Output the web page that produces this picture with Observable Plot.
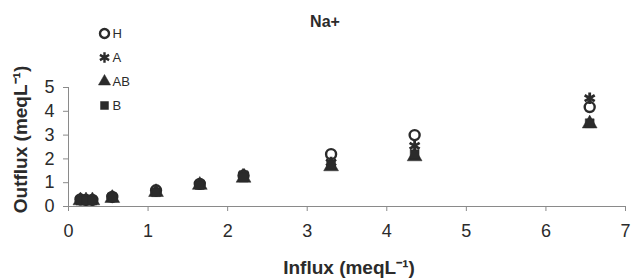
<!DOCTYPE html>
<html>
<head>
<meta charset="utf-8">
<script src="https://cdn.jsdelivr.net/npm/d3@7"></script>
<script src="https://cdn.jsdelivr.net/npm/@observablehq/plot@0.6"></script>
<style>
  html, body { margin: 0; padding: 0; background: #fff; }
  #chart { width: 634px; height: 279px; }
  svg { font-family: "Liberation Sans", Arial, sans-serif; }
</style>
</head>
<body>
<div id="chart"></div>
<script>
// Data
const influx = [0.15, 0.22, 0.3, 0.55, 1.1, 1.65, 2.2, 3.3, 4.35, 6.55];
const outH  = [0.3, 0.28, 0.28, 0.4, 0.68, 0.95, 1.3, 2.2, 3.0, 4.18];
const outA  = [0.3, 0.28, 0.28, 0.42, 0.65, 0.95, 1.35, 1.85, 2.55, 4.55];
const outAB = [0.25, 0.25, 0.25, 0.35, 0.6, 0.9, 1.2, 1.68, 2.1, 3.48];
const outB  = [0.25, 0.25, 0.25, 0.38, 0.6, 0.9, 1.22, 1.75, 2.2, 3.5];
const seriesNames = ["H", "A", "AB", "B"];
const xTicks = [0, 1, 2, 3, 4, 5, 6, 7];
const yTicks = [0, 1, 2, 3, 4, 5];
const title = "Na+";
const xLabel = "Influx (meqL\u207B\u00B9)";
const yLabel = "Outflux (meqL\u207B\u00B9)";

const seriesValues = { H: outH, A: outA, AB: outAB, B: outB };
const rows = seriesNames.flatMap(s => influx.map((x, i) => ({ s, x, y: seriesValues[s][i] })));
const bySeries = s => rows.filter(d => d.s === s);

const ink = "#2b2b2b";
const symbolScale = { domain: seriesNames, range: ["circle", "asterisk", "triangle", "square"] };

const legendMarks = seriesNames.flatMap((s, i) => {
  const dy = -54 + i * 24;
  const filled = s === "AB" || s === "B";
  return [
    Plot.dot([s], {
      frameAnchor: "top-left", dx: 36, dy, symbol: d => d, r: s === "A" ? 5 : 4.5,
      fill: filled ? ink : "none", stroke: ink, strokeWidth: filled ? 0.5 : 2.4
    }),
    Plot.text([s], {
      frameAnchor: "top-left", lineAnchor: "middle", dx: 44, dy, text: d => d, textAnchor: "start",
      fontSize: 13, fill: ink
    })
  ];
});

const chart = Plot.plot({
  width: 634,
  height: 279,
  marginLeft: 68,
  marginRight: 9,
  marginTop: 87,
  marginBottom: 73,
  style: { fontFamily: "Liberation Sans, Arial, sans-serif", background: "#fff", overflow: "visible" },
  x: { domain: [0, 7] },
  y: { domain: [0, 5] },
  symbol: symbolScale,
  marks: [
    Plot.ruleY([0], { stroke: "#8a8a8a", strokeWidth: 1 }),
    Plot.ruleX([0], { stroke: "#8a8a8a", strokeWidth: 1 }),
    Plot.axisX({ ticks: xTicks, tickFormat: "d", tickSize: 5, tickPadding: 13, fontSize: 18, label: null, stroke: "#8a8a8a", color: ink }),
    Plot.axisY({ ticks: yTicks, tickFormat: "d", tickSize: 5, tickPadding: 9, fontSize: 18, label: null, stroke: "#8a8a8a", color: ink }),
    Plot.dot(bySeries("H"), { x: "x", y: "y", symbol: "s", r: 5, fill: "none", stroke: ink, strokeWidth: 2.4 }),
    Plot.dot(bySeries("A"), { x: "x", y: "y", symbol: "s", r: 5.5, fill: "none", stroke: ink, strokeWidth: 2.8 }),
    Plot.dot(bySeries("AB"), { x: "x", y: "y", symbol: "s", r: 5.5, fill: ink, stroke: ink, strokeWidth: 0.5 }),
    Plot.dot(bySeries("B"), { x: "x", y: "y", symbol: "s", r: 5, fill: ink, stroke: ink, strokeWidth: 0.5 }),
    ...legendMarks,
    Plot.text([title], { frameAnchor: "top", lineAnchor: "middle", dx: -22, dy: -66, text: d => d, fontSize: 16, fontWeight: "bold", fill: ink }),
    Plot.text([xLabel], { frameAnchor: "bottom", lineAnchor: "middle", dx: 2, dy: 61, text: d => d, fontSize: 19, fontWeight: "bold", fill: ink }),
    Plot.text([yLabel], { frameAnchor: "left", lineAnchor: "middle", textAnchor: "middle", dx: -48, dy: -7.5, rotate: -90, text: d => d, fontSize: 19, fontWeight: "bold", fill: ink })
  ]
});
document.getElementById("chart").appendChild(chart);
</script>
</body>
</html>
